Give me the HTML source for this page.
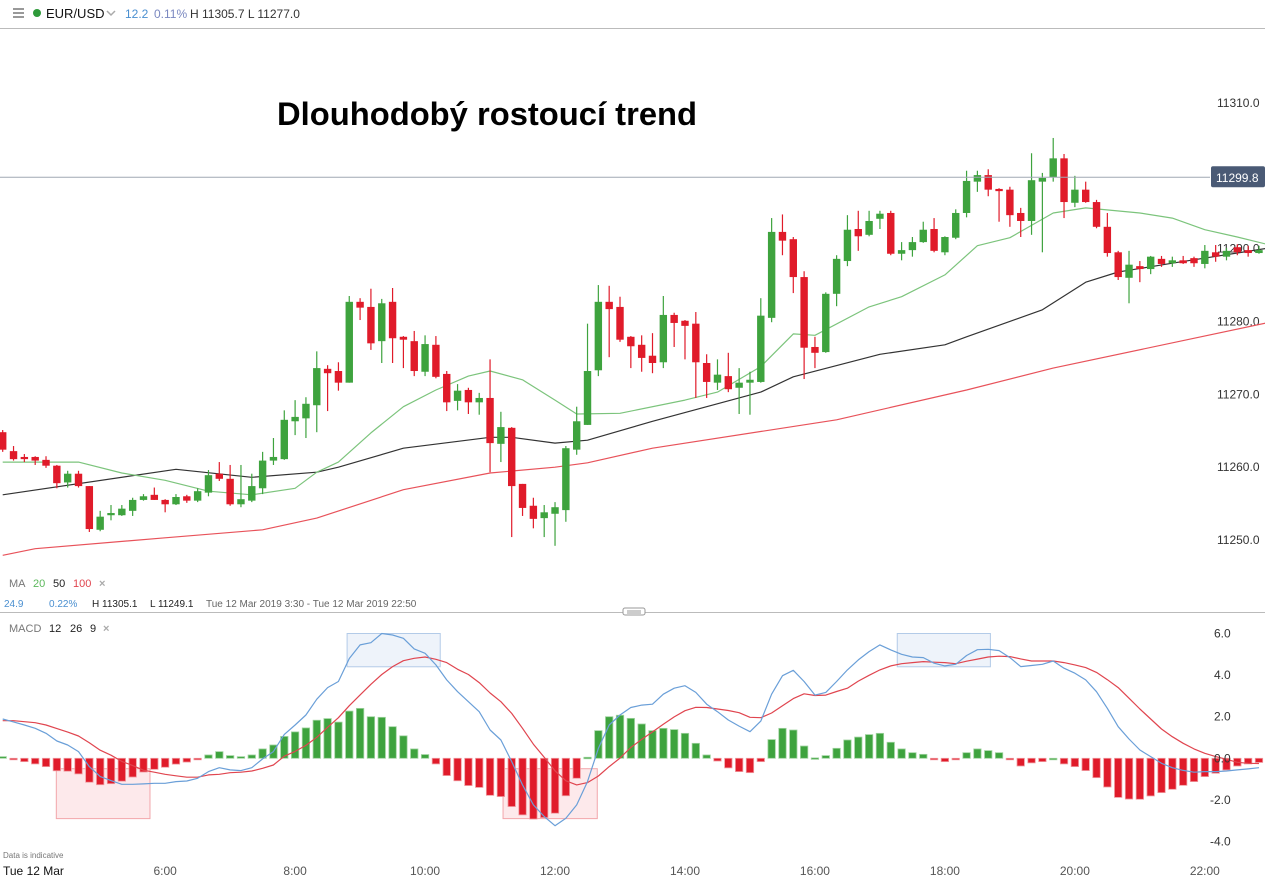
<!DOCTYPE html>
<html><head><meta charset="utf-8">
<style>
html,body{margin:0;padding:0;background:#fff;}
svg{display:block;font-family:"Liberation Sans",Arial,sans-serif;}
</style></head>
<body>
<svg id="chart" width="1265" height="877" viewBox="0 0 1265 877" xmlns="http://www.w3.org/2000/svg">
  <rect x="0" y="0" width="1265" height="877" fill="#fff"/>
  <g>
    <g fill="#999">
      <rect x="13" y="8" width="11" height="2"/><rect x="13" y="12" width="11" height="2"/><rect x="13" y="16" width="11" height="2"/>
    </g>
    <circle cx="37" cy="13" r="4" fill="#2e9a3a"/>
    <text x="46" y="18" font-size="13" fill="#111">EUR/USD</text>
    <path d="M107 11 L111 15 L115 11" stroke="#aaa" stroke-width="1.5" fill="none"/>
    <text x="125" y="18" font-size="12" fill="#4a8fd0">12.2</text>
    <text x="154" y="18" font-size="12" fill="#7a88c0">0.11%</text>
    <text x="190" y="18" font-size="12" fill="#333">H 11305.7  L 11277.0</text>
    <line x1="0" y1="28.5" x2="1265" y2="28.5" stroke="#bbb"/>
  </g>
  <text x="277" y="125" font-size="32" font-weight="bold" fill="#000" textLength="420" lengthAdjust="spacingAndGlyphs">Dlouhodobý rostoucí trend</text>
  <g id="main"></g>
  <g id="macd"></g>
  <g font-size="11">
    <text x="9" y="587" fill="#777">MA</text>
    <text x="33" y="587" fill="#5cb85c">20</text>
    <text x="53" y="587" fill="#222">50</text>
    <text x="73" y="587" fill="#e0454f">100</text>
    <text x="99" y="587" fill="#aaa" font-weight="bold">×</text>
  </g>
  <g font-size="10">
    <text x="4" y="607" fill="#4a8fd0">24.9</text>
    <text x="49" y="607" fill="#4a8fd0">0.22%</text>
    <text x="92" y="607" fill="#222">H 11305.1</text>
    <text x="150" y="607" fill="#222">L 11249.1</text>
    <text x="206" y="607" fill="#666">Tue 12 Mar 2019 3:30 - Tue 12 Mar 2019 22:50</text>
  </g>
  <line x1="0" y1="612.5" x2="1265" y2="612.5" stroke="#bbb"/>
  <rect x="623" y="608" width="22" height="7" rx="2" fill="#fff" stroke="#999"/>
  <line x1="627" y1="611" x2="641" y2="611" stroke="#999"/><line x1="627" y1="613" x2="641" y2="613" stroke="#999"/>
  <g font-size="11">
    <text x="9" y="632" fill="#777">MACD</text>
    <text x="49" y="632" fill="#222">12</text>
    <text x="70" y="632" fill="#222">26</text>
    <text x="90" y="632" fill="#222">9</text>
    <text x="103" y="632" fill="#aaa" font-weight="bold">×</text>
  </g>
  <text x="3" y="858" font-size="8" fill="#777">Data is indicative</text>
  <g id="xaxis" font-size="12" fill="#555"></g>
</svg>
<script>
const opens  = [11264.8,11262.2,11261.4,11261.4,11261.0,11260.2,11257.9,11259.1,11257.4,11251.4,11253.4,11253.4,11254.0,11255.5,11256.2,11255.5,11254.9,11256.0,11255.4,11256.5,11259.1,11258.4,11254.9,11255.4,11257.1,11260.9,11261.1,11266.3,11266.7,11268.5,11273.5,11273.2,11271.6,11282.7,11282.0,11277.3,11282.7,11277.9,11277.3,11273.1,11276.8,11272.8,11269.1,11270.6,11268.9,11269.5,11263.2,11265.4,11257.7,11254.7,11253.0,11253.6,11254.1,11262.4,11265.8,11273.3,11282.7,11282.0,11277.9,11276.8,11275.3,11274.4,11280.9,11280.1,11279.7,11274.3,11271.6,11272.5,11270.9,11271.6,11271.7,11280.5,11292.3,11291.3,11286.1,11276.5,11275.8,11283.8,11288.3,11292.7,11291.9,11294.1,11294.9,11289.3,11289.8,11290.9,11292.7,11289.5,11291.5,11294.9,11299.2,11300.1,11298.2,11298.1,11294.9,11293.8,11299.2,11299.8,11302.4,11296.3,11298.1,11296.4,11293.0,11289.5,11286.0,11287.6,11287.2,11288.6,11288.0,11288.4,11288.7,11287.9,11289.5,11288.9,11290.2,11289.8,11289.4];
const highs  = [11265.1,11262.9,11261.8,11261.5,11261.5,11260.3,11259.5,11259.5,11257.4,11254.0,11254.8,11254.8,11255.8,11256.3,11257.2,11255.6,11256.3,11256.2,11257.1,11259.6,11260.7,11260.3,11260.3,11259.1,11262.1,11264.0,11267.8,11269.2,11269.6,11275.9,11274.0,11274.4,11283.5,11283.2,11284.5,11283.1,11284.6,11278.0,11278.7,11278.1,11278.0,11273.2,11271.4,11270.9,11270.2,11274.8,11267.6,11265.5,11257.7,11255.8,11254.8,11255.2,11262.9,11268.3,11279.7,11285.0,11284.9,11283.4,11278.0,11278.1,11278.4,11283.5,11281.2,11280.2,11281.3,11275.5,11274.8,11275.7,11273.6,11273.1,11283.2,11294.2,11294.7,11291.6,11286.9,11277.9,11284.0,11289.1,11294.6,11295.2,11295.2,11295.2,11295.2,11290.9,11291.6,11293.7,11294.2,11291.7,11295.4,11300.7,11300.7,11300.9,11298.3,11298.5,11295.6,11303.1,11300.4,11305.2,11303.0,11300.0,11299.2,11296.7,11294.9,11289.7,11289.7,11288.3,11289.0,11289.0,11288.9,11289.0,11288.9,11290.5,11290.5,11290.1,11290.6,11290.4,11290.4];
const lows   = [11262.1,11260.9,11260.7,11260.3,11259.9,11257.1,11257.2,11257.2,11251.1,11251.2,11252.7,11253.3,11253.3,11255.4,11255.5,11253.8,11254.8,11255.1,11255.2,11256.0,11258.1,11254.7,11254.5,11255.2,11256.3,11260.3,11261.0,11264.4,11264.0,11264.8,11267.7,11270.5,11271.6,11280.2,11276.1,11274.3,11274.3,11273.6,11272.5,11272.5,11272.2,11267.7,11267.8,11267.3,11267.2,11259.3,11260.7,11250.4,11253.3,11251.6,11250.4,11249.2,11252.5,11261.7,11265.8,11272.5,11275.1,11277.2,11273.6,11273.1,11272.9,11273.6,11276.5,11274.8,11269.5,11269.5,11270.6,11270.3,11267.3,11267.2,11271.6,11279.9,11289.1,11283.9,11272.1,11273.6,11275.7,11282.1,11287.6,11289.7,11291.7,11292.7,11289.1,11288.4,11288.9,11290.8,11289.5,11289.1,11291.3,11294.3,11297.8,11297.2,11293.7,11293.0,11291.6,11291.9,11289.5,11299.2,11294.2,11295.7,11296.3,11292.8,11288.9,11285.7,11282.5,11285.4,11286.5,11287.5,11287.5,11287.9,11287.5,11287.3,11288.2,11288.4,11289.1,11288.9,11289.3];
const closes = [11262.4,11261.1,11261.1,11260.9,11260.2,11257.8,11259.1,11257.4,11251.5,11253.2,11253.7,11254.3,11255.5,11256.0,11255.5,11254.9,11255.9,11255.4,11256.7,11258.9,11258.4,11254.9,11255.6,11257.4,11260.9,11261.4,11266.5,11266.9,11268.7,11273.6,11272.9,11271.6,11282.7,11281.9,11277.0,11282.5,11277.7,11277.5,11273.2,11276.9,11272.4,11268.9,11270.5,11268.9,11269.5,11263.3,11265.5,11257.4,11254.4,11252.9,11253.8,11254.5,11262.6,11266.3,11273.2,11282.7,11281.7,11277.5,11276.6,11275.0,11274.3,11280.9,11279.8,11279.4,11274.4,11271.7,11272.7,11270.7,11271.6,11272.0,11280.8,11292.3,11291.1,11286.1,11276.4,11275.7,11283.8,11288.6,11292.6,11291.7,11293.8,11294.8,11289.3,11289.8,11290.9,11292.6,11289.7,11291.6,11294.9,11299.3,11300.1,11298.1,11297.9,11294.6,11293.8,11299.4,11299.7,11302.4,11296.4,11298.1,11296.4,11293.0,11289.4,11286.1,11287.8,11287.2,11288.9,11287.9,11288.4,11288.0,11288.0,11289.7,11288.9,11289.7,11289.5,11289.4,11289.8];
const ma20Idx = [0,7,11,15,19,23,27,29,31,34,37,40,43,45,48,51,53,57,63,66,70,73,75,80,83,87,90,93,97,100,105,108,111,114,117];
const ma20Val = [11260.7,11260.7,11259.2,11258.2,11256.7,11256.2,11257.1,11259.3,11260.7,11264.7,11268.3,11270.6,11272.5,11273.2,11272.0,11269.2,11267.3,11267.4,11269.2,11270.3,11273.8,11278.3,11278.1,11282.0,11283.4,11286.4,11290.4,11291.5,11294.9,11295.6,11294.9,11294.2,11292.6,11291.6,11290.5];
const ma50Idx = [0,16,23,29,31,37,45,47,51,54,60,70,73,81,87,89,96,100,103,108,114,117];
const ma50Val = [11256.2,11259.7,11258.6,11259.3,11260.0,11262.6,11264.1,11264.1,11263.3,11263.7,11266.3,11270.3,11272.4,11275.5,11276.8,11277.9,11281.6,11285.4,11286.8,11288.0,11289.4,11290.1];
const ma100Idx = [0,3,15,24,29,37,45,51,54,60,77,89,97,117];
const ma100Val = [11247.9,11248.8,11250.3,11251.4,11253.0,11256.9,11259.2,11260.0,11260.6,11262.6,11266.5,11270.6,11273.6,11279.9];
const macdLine = [1.89,1.75,1.6,1.44,1.2,0.83,0.64,0.32,-0.4,-0.88,-1.07,-1.25,-1.25,-1.23,-1.2,-1.2,-1.12,-1.09,-0.96,-0.64,-0.45,-0.56,-0.59,-0.45,-0.03,0.32,1.15,1.6,2.08,2.84,3.4,3.69,4.8,5.45,5.56,6.0,5.93,5.77,5.26,5.05,4.49,3.77,3.2,2.72,2.24,1.36,0.88,-0.16,-1.28,-2.24,-2.8,-3.24,-2.88,-2.24,-1.12,0.48,1.6,2.08,2.44,2.56,2.6,3.08,3.37,3.49,3.17,2.6,2.24,1.84,1.55,1.28,1.79,3.08,3.97,4.23,3.69,3.04,3.17,3.69,4.25,4.73,5.13,5.45,5.21,5.0,4.87,4.84,4.57,4.44,4.52,4.94,5.22,5.24,5.18,4.84,4.41,4.46,4.52,4.68,4.33,4.09,3.77,3.2,2.4,1.52,0.93,0.4,0.08,-0.24,-0.45,-0.58,-0.67,-0.64,-0.64,-0.61,-0.56,-0.51,-0.45];
const histVals = [0.08,-0.06,-0.16,-0.27,-0.4,-0.6,-0.62,-0.75,-1.15,-1.27,-1.22,-1.1,-0.9,-0.66,-0.53,-0.43,-0.28,-0.18,-0.05,0.16,0.32,0.13,0.08,0.16,0.45,0.64,1.05,1.27,1.46,1.83,1.91,1.74,2.27,2.4,2.0,1.97,1.52,1.08,0.45,0.18,-0.27,-0.83,-1.08,-1.31,-1.4,-1.78,-1.84,-2.32,-2.72,-2.92,-2.85,-2.64,-1.8,-0.96,0.05,1.33,2.0,2.07,1.92,1.65,1.33,1.44,1.38,1.2,0.72,0.16,-0.13,-0.46,-0.64,-0.69,-0.16,0.9,1.44,1.36,0.59,0.02,0.13,0.48,0.88,1.02,1.14,1.2,0.77,0.45,0.27,0.19,-0.05,-0.16,-0.03,0.27,0.45,0.37,0.27,-0.05,-0.37,-0.22,-0.16,0.0,-0.27,-0.4,-0.59,-0.93,-1.38,-1.88,-1.96,-1.97,-1.81,-1.65,-1.49,-1.3,-1.12,-0.88,-0.72,-0.56,-0.37,-0.27,-0.2];
const priceTicks = [11310,11300,11290,11280,11270,11260,11250];
const priceTickLabels = ["11310.0","11300.0","11290.0","11280.0","11270.0","11260.0","11250.0"];
const macdTicks = [6,4,2,0,-2,-4];
const macdTickLabels = ["6.0","4.0","2.0","0.0","-2.0","-4.0"];
const timeTickIdx = [15,27,39,51,63,75,87,99,111];
const timeTickLabels = ["6:00","8:00","10:00","12:00","14:00","16:00","18:00","20:00","22:00"];
const lastPrice = 11299.8;
const highlightBoxes = [[4.95,13.6,-0.5,-2.9],[31.8,40.4,6.0,4.4],[46.2,54.9,-0.5,-2.9],[82.6,91.2,6.0,4.4]];

const NS = "http://www.w3.org/2000/svg";
const X = i => 2.7 + i * 10.83;
const Y = p => 103 + (11310 - p) * 7.283;
const YM = v => 758.3 - v * 20.8;
function mk(tag, attrs, parent) {
  const e = document.createElementNS(NS, tag);
  for (const k in attrs) e.setAttribute(k, attrs[k]);
  parent.appendChild(e);
  return e;
}
const main = document.getElementById('main');
const macd = document.getElementById('macd');
const xaxis = document.getElementById('xaxis');

priceTicks.forEach((p, k) => {
  if (p === 11300) return;
  const t = mk('text', {x: 1217, y: Y(p) + 4, 'font-size': 12, fill: '#333'}, main);
  
  
  t.textContent = priceTickLabels[k];
});

function maLine(idx, vals, color, name, w) {
  const d = idx.map((i, k) => (k ? 'L' : 'M') + X(i).toFixed(1) + ' ' + Y(vals[k]).toFixed(1)).join(' ');
  const p = mk('path', {d: d, fill: 'none', stroke: color, 'stroke-width': w, 'stroke-linejoin': 'round'}, main);
  
  
}
maLine(ma100Idx, ma100Val, '#e8525a', 'ma100-line', 1.2);
maLine(ma50Idx, ma50Val, '#333', 'ma50-line', 1.2);
maLine(ma20Idx, ma20Val, '#7cc47c', 'ma20-line', 1.2);

opens.forEach((o, i) => {
  const c = closes[i], up = c >= o;
  const col = up ? '#3ea33e' : '#e01b2a';
  const g = mk('g', {}, main);
  
  
  const x = X(i);
  mk('line', {x1: x, x2: x, y1: Y(highs[i]), y2: Y(lows[i]), stroke: col, 'stroke-width': 1.2}, g);
  const top = Y(Math.max(o, c)), bot = Y(Math.min(o, c));
  mk('rect', {x: x - 3.7, y: top, width: 7.4, height: Math.max(1.5, bot - top), fill: col}, g);
});

const ly = Y(lastPrice);
const pl = mk('line', {x1: 0, x2: 1210, y1: ly, y2: ly, stroke: '#a0a8b4', 'stroke-width': 1}, main);


const pb = mk('rect', {x: 1211, y: ly - 11, width: 54, height: 21, rx: 2, fill: '#4a5a75'}, main);


const pt = mk('text', {x: 1216, y: ly + 4.5, 'font-size': 12, fill: '#fff'}, main);


pt.textContent = lastPrice.toFixed(1);

highlightBoxes.forEach(b => {
  const neg = b[2] < 0;
  const r = mk('rect', {x: X(b[0]), y: YM(b[2]), width: X(b[1]) - X(b[0]), height: YM(b[3]) - YM(b[2]),
    fill: neg ? 'rgba(240,120,130,0.16)' : 'rgba(120,160,220,0.13)', stroke: neg ? '#f2a6ab' : '#b3cbe8', 'stroke-width': 1}, macd);
  
  
});

histVals.forEach((v, i) => {
  const up = v >= 0;
  const y0 = YM(0), y1 = YM(v);
  const r = mk('rect', {x: X(i) - 3.7, y: Math.min(y0, y1), width: 7.4, height: Math.max(1.5, Math.abs(y1 - y0)),
    fill: up ? '#3ea33e' : '#e01b2a', stroke: up ? '#9fd39f' : '#f09aa0', 'stroke-width': 0.8}, macd);
  
  
});

const sig = macdLine.map((m, i) => m - histVals[i]);
function mline(vals, color, name) {
  const d = vals.map((v, i) => (i ? 'L' : 'M') + X(i).toFixed(1) + ' ' + YM(v).toFixed(1)).join(' ');
  const p = mk('path', {d: d, fill: 'none', stroke: color, 'stroke-width': 1.2, 'stroke-linejoin': 'round'}, macd);
  
  
}
mline(sig, '#e0454f', 'signal-line');
mline(macdLine, '#6a9fd8', 'macd-line');

macdTicks.forEach((v, k) => {
  const t = mk('text', {x: v < 0 ? 1210 : 1214, y: YM(v) + 4, 'font-size': 12, fill: '#333'}, macd);
  
  
  t.textContent = macdTickLabels[k];
});

const d0 = mk('text', {x: 3, y: 875, 'font-size': 12, fill: '#111'}, xaxis);


d0.textContent = 'Tue 12 Mar';
timeTickIdx.forEach((i, k) => {
  const t = mk('text', {x: X(i), y: 875, 'font-size': 12, fill: '#555', 'text-anchor': 'middle'}, xaxis);
  
  
  t.textContent = timeTickLabels[k];
});
</script>
</body></html>
